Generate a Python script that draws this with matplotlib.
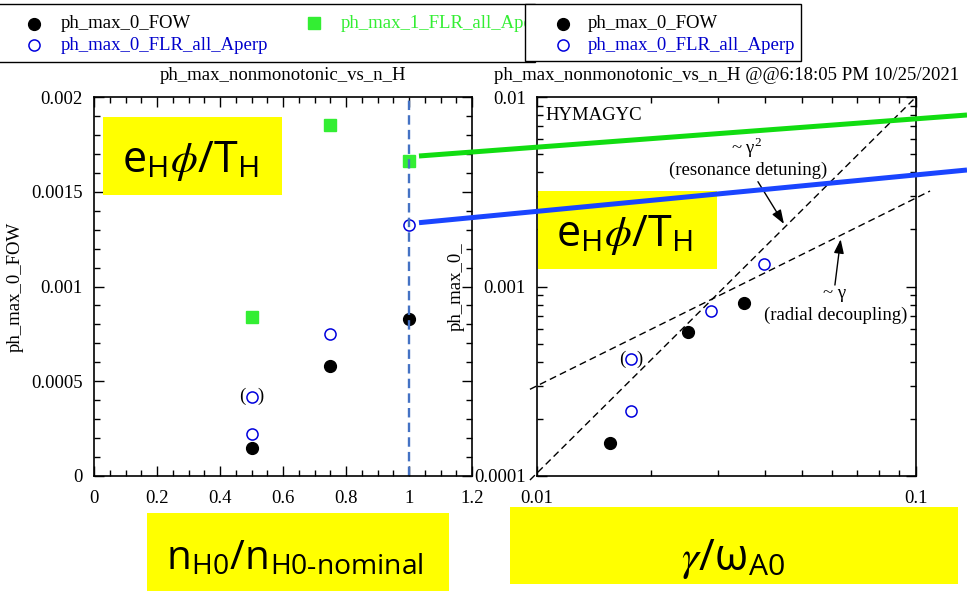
import matplotlib
matplotlib.use("Agg")
import matplotlib.pyplot as plt
from matplotlib.lines import Line2D
from matplotlib.patches import Rectangle
from matplotlib.ticker import MultipleLocator, FuncFormatter, LogLocator, NullFormatter

plt.rcParams["font.family"] = ["Liberation Serif", "DejaVu Serif"]
plt.rcParams["mathtext.fontset"] = "stix"
plt.rcParams["font.size"] = 13.5

W, H = 967, 591

# ---- left panel: peak potential vs n_H0 / n_H0-nominal ----
nh = [0.5, 0.75, 1.0]
fow_nh = [0.000149, 0.00058, 0.000827]
flr_nh = [0.000222, 0.000748, 0.001325]
flr1_nh = [0.000837, 0.001852, 0.001662]
paren_nh = [0.5]
paren_flr_nh = [0.000419]
nominal_nh = 1.0

# ---- right panel: peak potential vs gamma / omega_A0 ----
gam_fow = [0.01558, 0.02506, 0.03524]
fow_gam = [1.498e-4, 5.73e-4, 8.21e-4]
gam_flr = [0.0177, 0.02873, 0.0397]
flr_gam = [2.20e-4, 7.46e-4, 1.314e-3]
paren_gam = [0.0177]
paren_flr_gam = [4.14e-4]

# guide lines ~gamma^2 and ~gamma (end points)
g2_x = [0.00958, 0.1]
g2_y = [9.52e-5, 0.01]
g1_x = [0.00958, 0.1089]
g1_y = [2.867e-4, 0.00319]

FOW = dict(marker="o", markersize=8.5, color="black", linestyle="none")
FLR = dict(marker="o", markersize=8, markerfacecolor="none",
           markeredgecolor="#0000dd", markeredgewidth=1.1, linestyle="none")
FLR1 = dict(marker="s", markersize=8.5, color="#33ee33", linestyle="none")


def fx(px):
    return px / W


def fy(py):
    return 1 - py / H


def style_axes(ax):
    ax.tick_params(which="both", direction="in", top=True, right=True,
                   width=1, labelsize=13.5)
    ax.tick_params(axis="x", pad=10)
    ax.tick_params(axis="y", pad=8)
    ax.tick_params(which="major", length=7)
    ax.tick_params(which="minor", length=4)
    for s in ax.spines.values():
        s.set_linewidth(1.2)


gfmt = FuncFormatter(lambda v, p: f"{v:g}")

fig = plt.figure(figsize=(W / 100, H / 100), dpi=100)

# =============================================================================
# LEFT PANEL
# =============================================================================
ax1 = fig.add_axes([fx(94), fy(476), (472 - 94) / W, (476 - 97) / H])
ax1.plot(nh, flr1_nh, **FLR1)
ax1.plot(nh, flr_nh, **FLR)
ax1.plot(paren_nh, paren_flr_nh, **FLR)
ax1.plot(nh, fow_nh, **FOW)
ax1.axvline(nominal_nh, color="#4472C4", lw=1.7, linestyle=(0, (4, 2.2)))
for x, y in zip(paren_nh, paren_flr_nh):
    ax1.annotate("(", (x, y), xytext=(-6.5, 0), textcoords="offset points",
                 ha="center", va="center")
    ax1.annotate(")", (x, y), xytext=(6.5, 0), textcoords="offset points",
                 ha="center", va="center")

ax1.set_xlim(0, 1.2)
ax1.set_ylim(0, 0.002)
ax1.xaxis.set_major_locator(MultipleLocator(0.2))
ax1.xaxis.set_minor_locator(MultipleLocator(0.05))
ax1.yaxis.set_major_locator(MultipleLocator(0.0005))
ax1.yaxis.set_minor_locator(MultipleLocator(0.0001))
ax1.xaxis.set_major_formatter(gfmt)
ax1.yaxis.set_major_formatter(gfmt)
style_axes(ax1)
ax1.set_title("ph_max_nonmonotonic_vs_n_H", fontsize=13.5, pad=12)
ax1.set_ylabel("ph_max_0_FOW", fontsize=13.5)
ax1.yaxis.set_label_coords(-0.185, 0.5)

# =============================================================================
# RIGHT PANEL
# =============================================================================
ax2 = fig.add_axes([fx(537), fy(476), (916 - 537) / W, (476 - 97) / H])
ax2.set_xscale("log")
ax2.set_yscale("log")
ax2.plot(g2_x, g2_y, color="black", lw=1, linestyle=(0, (5, 3)), clip_on=False)
ax2.plot(g1_x, g1_y, color="black", lw=1, linestyle=(0, (5, 3)), clip_on=False)
ax2.plot(gam_flr, flr_gam, **FLR)
ax2.plot(paren_gam, paren_flr_gam, **FLR)
ax2.plot(gam_fow, fow_gam, **FOW)
for x, y in zip(paren_gam, paren_flr_gam):
    ax2.annotate("(", (x, y), xytext=(-6, 0), textcoords="offset points",
                 ha="center", va="center")
    ax2.annotate(")", (x, y), xytext=(6, 0), textcoords="offset points",
                 ha="center", va="center")

arrow = dict(arrowstyle="-|>,head_length=0.7,head_width=0.25", color="black",
             lw=1, mutation_scale=12, shrinkA=0, shrinkB=0)
ax2.annotate("", xy=(0.04484, 0.002138), xytext=(0.03828, 0.003573), arrowprops=arrow)
ax2.annotate("", xy=(0.06327, 0.001775), xytext=(0.0611, 0.001018), arrowprops=arrow)
ax2.text(0.03574, 0.005361, r"~ γ$^{\mathregular{2}}$", ha="center", va="center")
ax2.text(0.0360, 0.004083, "(resonance detuning)", ha="center", va="center")
ax2.text(0.0611, 0.000920, "~ γ", ha="center", va="center")
ax2.text(0.0615, 0.000702, "(radial decoupling)", ha="center", va="center")
ax2.text(0.021, 0.9525, "HYMAGYC", transform=ax2.transAxes, ha="left", va="center")

ax2.set_xlim(0.01, 0.1)
ax2.set_ylim(1e-4, 1e-2)
for axis in (ax2.xaxis, ax2.yaxis):
    axis.set_major_locator(LogLocator(base=10))
    axis.set_minor_locator(LogLocator(base=10, subs=range(2, 10)))
    axis.set_major_formatter(gfmt)
    axis.set_minor_formatter(NullFormatter())
style_axes(ax2)
ax2.set_title("ph_max_nonmonotonic_vs_n_H @@6:18:05 PM 10/25/2021", fontsize=13.5, pad=12)
ax2.set_ylabel("ph_max_0_", fontsize=13.5)
ax2.yaxis.set_label_coords(-0.19, 0.5)

# =============================================================================
# LEGENDS (top strip)
# =============================================================================
fig.add_artist(Rectangle((fx(-5), fy(62)), fx(540), 58 / H, transform=fig.transFigure,
                         facecolor="white", edgecolor="black", lw=1, zorder=8))
fig.add_artist(Line2D([fx(34)], [fy(24)], transform=fig.transFigure, zorder=9, **FOW))
fig.add_artist(Line2D([fx(34)], [fy(45)], transform=fig.transFigure, zorder=9, **FLR))
fig.add_artist(Line2D([fx(314)], [fy(23)], transform=fig.transFigure, zorder=9, **FLR1))
fig.text(fx(61), fy(24), "ph_max_0_FOW", va="center", color="black", zorder=9)
fig.text(fx(61), fy(45), "ph_max_0_FLR_all_Aperp", va="center", color="#0000cc", zorder=9)
fig.text(fx(341), fy(24), "ph_max_1_FLR_all_Aperp", va="center", color="#33ee33", zorder=9)

fig.add_artist(Rectangle((fx(525), fy(61)), fx(801 - 525), 57 / H, transform=fig.transFigure,
                         facecolor="white", edgecolor="black", lw=1, zorder=10))
fig.add_artist(Line2D([fx(563)], [fy(24)], transform=fig.transFigure, zorder=11, **FOW))
fig.add_artist(Line2D([fx(563)], [fy(45)], transform=fig.transFigure, zorder=11, **FLR))
fig.text(fx(588), fy(24), "ph_max_0_FOW", va="center", color="black", zorder=11)
fig.text(fx(588), fy(45), "ph_max_0_FLR_all_Aperp", va="center", color="#0000cc", zorder=11)

# =============================================================================
# YELLOW LABEL BOXES AND CONNECTOR LINES
# =============================================================================
boxes = [
    ((103, 282, 117, 195), (190.5, 172), 31,
     r"e$_\mathregular{H}$$\phi$/T$_\mathregular{H}$"),
    ((537.7, 717, 191, 269), (625, 245.7), 31,
     r"e$_\mathregular{H}$$\phi$/T$_\mathregular{H}$"),
    ((147, 449, 513, 595), (295, 570), 29,
     r"n$_\mathregular{H0}$/n$_\mathregular{H0\text{-}nominal}$"),
    ((510, 958, 507, 584), (733, 570), 31,
     r"$\gamma$/ω$_\mathregular{A0}$"),
]
for (x0, x1, y0, y1), (tx, ty), size, label in boxes:
    fig.add_artist(Rectangle((fx(x0), fy(y1)), (x1 - x0) / W, (y1 - y0) / H,
                             transform=fig.transFigure, facecolor="#ffff00",
                             edgecolor="none", zorder=5))
    fig.text(fx(tx), fy(ty), label, ha="center", va="baseline", fontsize=size,
             family=["Open Sans", "DejaVu Sans"], zorder=6)

fig.add_artist(Line2D([fx(419), fx(967)], [fy(156), fy(115)], transform=fig.transFigure,
                      color="#11dd11", lw=3.6, solid_capstyle="butt", zorder=7))
fig.add_artist(Line2D([fx(419), fx(967)], [fy(222.7), fy(170)], transform=fig.transFigure,
                      color="#1a45ff", lw=3.6, solid_capstyle="butt", zorder=7))

fig.savefig("out.png", dpi=100)
